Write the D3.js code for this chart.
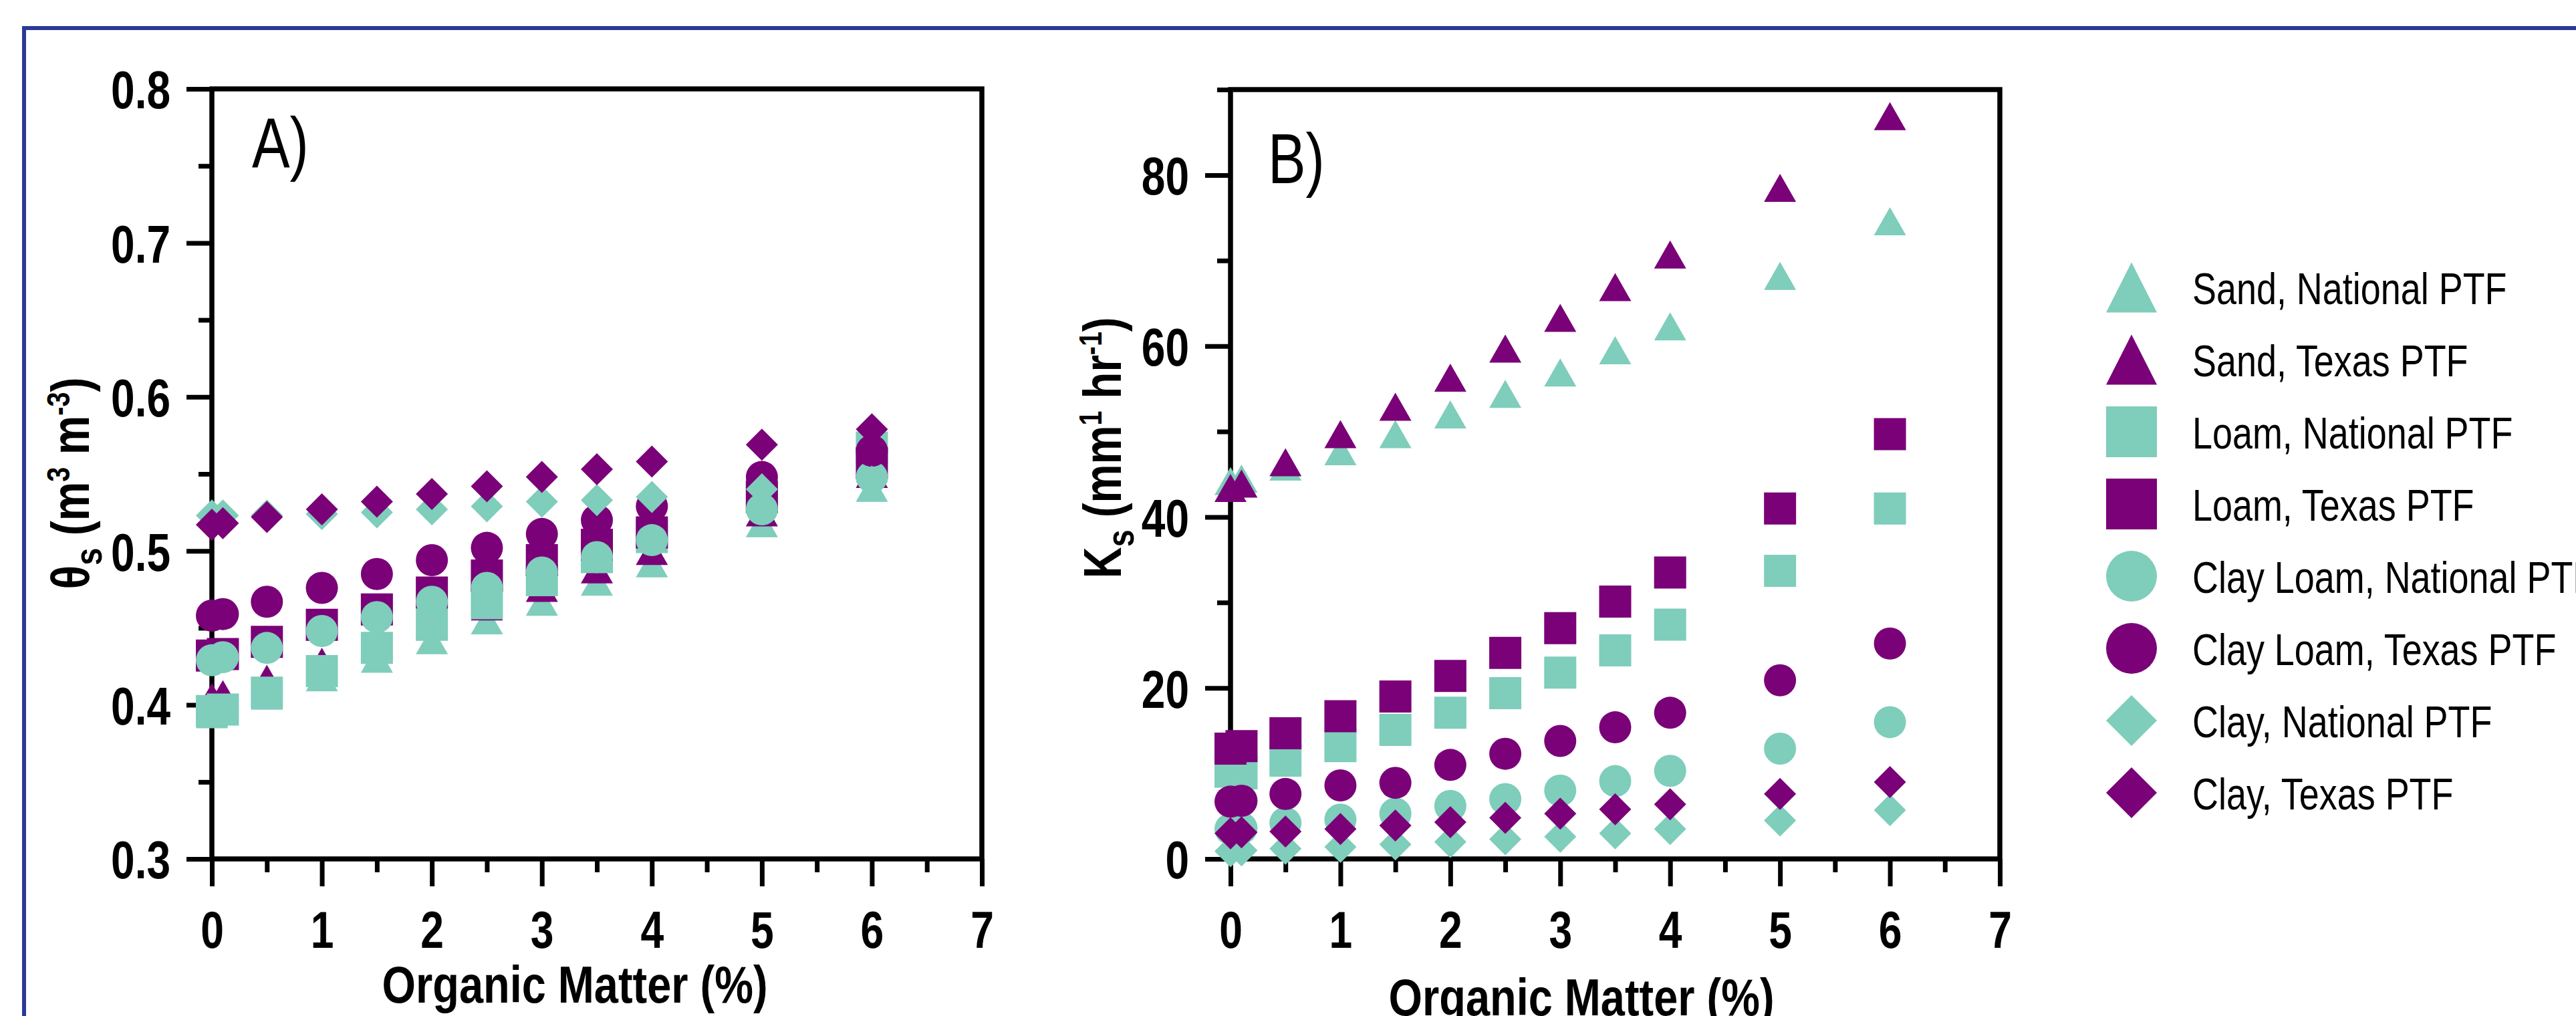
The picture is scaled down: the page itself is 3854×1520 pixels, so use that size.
<!DOCTYPE html>
<html><head><meta charset="utf-8">
<script src="https://cdn.jsdelivr.net/npm/d3@7"></script>
<style>html,body{margin:0;padding:0;background:#fff;overflow:hidden}</style>
</head><body>
<svg id="c" width="3854" height="1520" xmlns="http://www.w3.org/2000/svg"></svg>
<script>
// ---------- DATA ----------
const omLevels = [0, 0.1, 0.5, 1, 1.5, 2, 2.5, 3, 3.5, 4, 5, 6];
const xTickValues = [0, 1, 2, 3, 4, 5, 6, 7];
const thetaTickValues = [0.3, 0.4, 0.5, 0.6, 0.7, 0.8];
const ksTickValues = [0, 20, 40, 60, 80];

const seriesLabels = ["Sand, National PTF", "Sand, Texas PTF", "Loam, National PTF", "Loam, Texas PTF",
  "Clay Loam, National PTF", "Clay Loam, Texas PTF", "Clay, National PTF", "Clay, Texas PTF"];
const seriesShapes = ["triangle", "triangle", "square", "square", "circle", "circle", "diamond", "diamond"];
const seriesPTF = ["National", "Texas", "National", "Texas", "National", "Texas", "National", "Texas"];

// Panel A: saturated water content theta_s (m3 m-3)
const thetaSandNat     = [0.394, 0.396, 0.406, 0.418, 0.430, 0.442, 0.455, 0.467, 0.480, 0.492, 0.518, 0.541];
const thetaSandTex     = [0.405, 0.407, 0.417, 0.428, 0.440, 0.452, 0.464, 0.476, 0.488, 0.500, 0.525, 0.550];
const thetaLoamNat     = [0.396, 0.397, 0.408, 0.422, 0.437, 0.452, 0.466, 0.481, 0.496, 0.509, 0.536, 0.567];
const thetaLoamTex     = [0.432, 0.433, 0.441, 0.452, 0.462, 0.473, 0.484, 0.494, 0.504, 0.512, 0.535, 0.557];
const thetaClayLoamNat = [0.429, 0.431, 0.437, 0.448, 0.457, 0.467, 0.476, 0.486, 0.496, 0.507, 0.527, 0.548];
const thetaClayLoamTex = [0.458, 0.459, 0.467, 0.476, 0.485, 0.494, 0.502, 0.511, 0.520, 0.529, 0.548, 0.565];
const thetaClayNat     = [0.523, 0.523, 0.523, 0.524, 0.525, 0.527, 0.529, 0.532, 0.533, 0.535, 0.540, 0.545];
const thetaClayTex     = [0.517, 0.518, 0.522, 0.527, 0.532, 0.537, 0.542, 0.548, 0.553, 0.558, 0.569, 0.579];

// Panel B: saturated hydraulic conductivity Ks (mm hr-1)
const ksSandNat     = [44.2, 44.5, 45.9, 47.7, 49.7, 52.0, 54.4, 56.9, 59.5, 62.3, 68.2, 74.6];
const ksSandTex     = [43.4, 43.9, 46.4, 49.7, 52.9, 56.3, 59.7, 63.3, 66.9, 70.7, 78.5, 86.9];
const ksLoamNat     = [10.2, 10.0, 11.5, 13.2, 15.1, 17.1, 19.4, 21.8, 24.4, 27.4, 33.7, 41.0];
const ksLoamTex     = [12.9, 13.2, 14.7, 16.7, 19.0, 21.4, 24.1, 27.0, 30.1, 33.5, 41.0, 49.7];
const ksClayLoamNat = [3.5, 3.6, 4.2, 4.6, 5.3, 6.2, 7.0, 8.0, 9.1, 10.3, 12.9, 16.0];
const ksClayLoamTex = [6.7, 6.8, 7.6, 8.6, 8.9, 11.0, 12.3, 13.8, 15.4, 17.1, 20.9, 25.2];
const ksClayNat     = [0.9, 1.0, 1.2, 1.4, 1.7, 2.0, 2.3, 2.6, 3.0, 3.5, 4.5, 5.7];
const ksClayTex     = [3.0, 3.1, 3.2, 3.5, 3.9, 4.3, 4.8, 5.3, 5.8, 6.4, 7.6, 9.0];

const thetaSeries = [thetaSandNat, thetaSandTex, thetaLoamNat, thetaLoamTex,
  thetaClayLoamNat, thetaClayLoamTex, thetaClayNat, thetaClayTex];
const ksSeries = [ksSandNat, ksSandTex, ksLoamNat, ksLoamTex,
  ksClayLoamNat, ksClayLoamTex, ksClayNat, ksClayTex];

// ---------- STYLE ----------
const FONT = "'Liberation Sans', Arial, Helvetica, sans-serif";
const SX = 0.8;               // narrow typeface look
const COLOR = {National: "#7fcdbb", Texas: "#7a0177"};
const AXW = 7.5;

const svg = d3.select("#c");
svg.append("rect").attr("width", 3854).attr("height", 1520).attr("fill", "#fff");

// blue frame (top + left)
svg.append("path").attr("d", "M36,1520 L36,42 L3854,42")
  .attr("fill", "none").attr("stroke", "#2b3a96").attr("stroke-width", 6);

function shapePath(shape, w, h) {
  const a = w / 2, b = h / 2;
  if (shape === "triangle") return `M0,${-b}L${a},${b}L${-a},${b}Z`;
  if (shape === "square") return `M${-a},${-b}H${a}V${b}H${-a}Z`;
  if (shape === "diamond") return `M0,${-b}L${a},0L0,${b}L${-a},0Z`;
  return `M${a},0A${a},${b} 0 1,1 ${-a},0A${a},${b} 0 1,1 ${a},0Z`;
}
function markerDims(shape) {
  if (shape === "triangle") return [48, 42];
  return [48, 48];
}

function label(parent, x, y, str, o) {
  const g = parent.append("g");
  const t = g.append("text").attr("text-anchor", o.anchor || "middle")
    .attr("font-family", FONT).attr("font-size", o.size)
    .attr("font-weight", o.bold ? "bold" : "normal").attr("fill", "#000").text(str);
  let sx = o.sx || SX;
  if (o.target) sx = o.target / t.node().getComputedTextLength();
  g.attr("transform", `translate(${x},${y})${o.rotate ? " rotate(" + o.rotate + ")" : ""} scale(${sx},1)`);
  return t;
}

function richLabel(parent, x, y, parts, o) {
  const g = parent.append("g");
  const t = g.append("text").attr("text-anchor", "middle")
    .attr("font-family", FONT).attr("font-size", o.size).attr("font-weight", "bold").attr("fill", "#000");
  let shift = 0;
  parts.forEach(p => {
    let target = 0, fs = o.size;
    if (p.sub) { target = 19; fs = 57; }
    if (p.sup) { target = -29; fs = 48; }
    t.append("tspan").attr("dy", target - shift).attr("font-size", fs).text(p.t);
    shift = target;
  });
  let sx = SX;
  if (o.target) sx = o.target / t.node().getComputedTextLength();
  g.attr("transform", `translate(${x},${y})${o.rotate ? " rotate(" + o.rotate + ")" : ""} scale(${sx},1)`);
}

function panel(cfg) {
  const x = d3.scaleLinear().domain([0, 7]).range([cfg.left, cfg.right]);
  const y = d3.scaleLinear().domain(cfg.yDomain).range([cfg.bottom, cfg.top]);
  const g = svg.append("g");

  const styleAxis = sel => {
    sel.select(".domain").remove();
    sel.selectAll("line").attr("stroke", "#000").attr("stroke-width", 7);
  };

  // minor ticks
  g.append("g").attr("transform", `translate(${cfg.left},0)`)
    .call(d3.axisLeft(y).tickValues(cfg.yMinor).tickSize(20).tickFormat(""))
    .call(styleAxis);
  g.append("g").attr("transform", `translate(0,${cfg.bottom})`)
    .call(d3.axisBottom(x).tickValues(d3.range(0.5, 7, 1)).tickSize(20).tickFormat(""))
    .call(styleAxis);

  // major ticks
  const ya = g.append("g").attr("transform", `translate(${cfg.left},0)`)
    .call(d3.axisLeft(y).tickValues(cfg.yTicks).tickSize(38).tickFormat(cfg.yFmt))
    .call(styleAxis);
  ya.selectAll("text").attr("transform", `scale(${SX},1)`).attr("x", -(38 + 24) / SX)
    .attr("dy", "0.36em").attr("font-family", FONT).attr("font-size", 80)
    .attr("font-weight", "bold").attr("fill", "#000");

  const xa = g.append("g").attr("transform", `translate(0,${cfg.bottom})`)
    .call(d3.axisBottom(x).tickValues(xTickValues).tickSize(41).tickFormat(d3.format("d")))
    .call(styleAxis);
  xa.selectAll("text").attr("transform", `scale(${SX},1)`).attr("x", 0).attr("y", 133).attr("dy", 0)
    .attr("font-family", FONT).attr("font-size", 78).attr("font-weight", "bold").attr("fill", "#000");

  // frame
  g.append("rect").attr("x", cfg.left).attr("y", cfg.top)
    .attr("width", cfg.right - cfg.left).attr("height", cfg.bottom - cfg.top)
    .attr("fill", "none").attr("stroke", "#000").attr("stroke-width", AXW);

  // panel letter
  label(g, cfg.letterX, cfg.letterY, cfg.letter, {size: 106, anchor: "start"});

  // axis titles
  label(g, cfg.xTitleX, cfg.xTitleY, "Organic Matter (%)", {size: 78, bold: true, target: 577});
  richLabel(g, cfg.yTitleX, cfg.yTitleY, cfg.yTitleParts, {size: 80, rotate: -90, target: cfg.yTitleLen});

  // markers (legend order = draw order)
  cfg.series.forEach((vals, i) => {
    const shape = seriesShapes[i];
    const [w, h] = markerDims(shape);
    g.append("g").selectAll("path").data(omLevels.map((om, j) => ({om, v: vals[j]})))
      .join("path")
      .attr("d", shapePath(shape, w, h))
      .attr("transform", d => `translate(${x(d.om)},${y(d.v)})`)
      .attr("fill", COLOR[seriesPTF[i]]);
  });
}

panel({
  left: 317, right: 1469, top: 133, bottom: 1285,
  yDomain: [0.3, 0.8], yTicks: thetaTickValues, yMinor: [0.35, 0.45, 0.55, 0.65, 0.75],
  yFmt: d3.format(".1f"), series: thetaSeries,
  letter: "A)", letterX: 377, letterY: 250,
  xTitleX: 860, xTitleY: 1500, yTitleX: 133, yTitleY: 723, yTitleLen: 317,
  yTitleParts: [{t: "\u03b8"}, {t: "s", sub: true}, {t: " (m"}, {t: "3", sup: true}, {t: " m"}, {t: "-3", sup: true}, {t: ")"}]
});

panel({
  left: 1841, right: 2992, top: 134, bottom: 1285,
  yDomain: [0, 90], yTicks: ksTickValues, yMinor: [10, 30, 50, 70, 90],
  yFmt: d3.format("d"), series: ksSeries,
  letter: "B)", letterX: 1897, letterY: 274,
  xTitleX: 2366, xTitleY: 1519, yTitleX: 1677, yTitleY: 670, yTitleLen: 391,
  yTitleParts: [{t: "K"}, {t: "s", sub: true}, {t: " (mm"}, {t: "1", sup: true}, {t: " hr"}, {t: "-1", sup: true}, {t: ")"}]
});

// ---------- LEGEND ----------
const leg = svg.append("g");
seriesLabels.forEach((name, i) => {
  const cy = 430 + i * 108;
  const shape = seriesShapes[i];
  const w = 76, h = shape === "triangle" ? 75 : 76;
  leg.append("path").attr("d", shapePath(shape, w, h))
    .attr("transform", `translate(3189,${cy})`).attr("fill", COLOR[seriesPTF[i]]);
  label(leg, 3280, cy + 25, name, {size: 67, anchor: "start", sx: 0.805});
});
</script>
</body></html>
